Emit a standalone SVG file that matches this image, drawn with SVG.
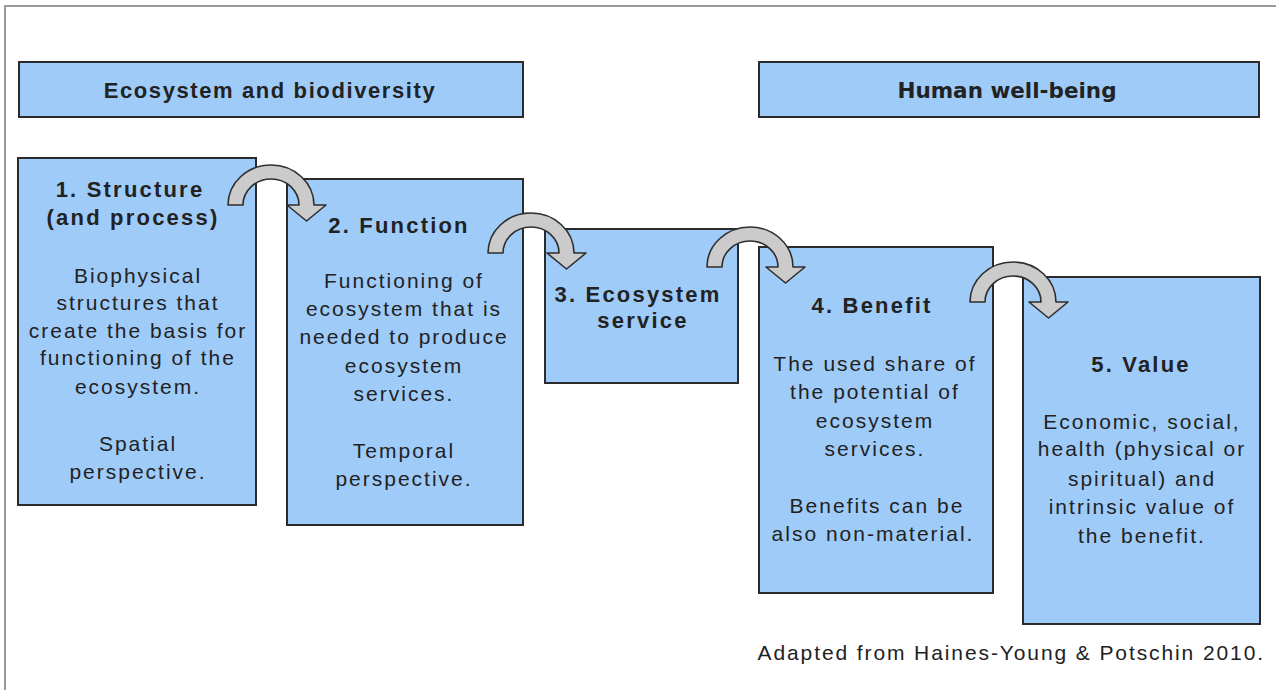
<svg xmlns="http://www.w3.org/2000/svg" width="1276" height="690" viewBox="0 0 1276 690">
  <style>
    .box { fill: #9fcbf9; stroke: #2b2b2b; stroke-width: 2; }
    .frame { fill: none; stroke: #9a9a9a; stroke-width: 2; }
    .arrow { fill: #cbcbcb; stroke: #2e2e2e; stroke-width: 1.6; stroke-linejoin: round; }
    text { font-family: "Liberation Sans", Arial, sans-serif; fill: #222; text-anchor: middle; }
    .t { font-size: 21px; letter-spacing: 2px; }
    .h { font-size: 22px; font-weight: bold; letter-spacing: 2.2px; }
    .hd { font-size: 22px; font-weight: bold; letter-spacing: 1.6px; }
    .hw { font-family: "DejaVu Sans", Verdana, sans-serif; font-size: 21.5px; font-weight: bold; }
    .note { font-size: 21px; letter-spacing: 1.9px; text-anchor: end; }
  </style>
  <defs>
    <!-- curved arrow that hops over the gap between two neighbouring boxes -->
    <path id="hop" class="arrow" d="M228,205 A43,40 0 0 1 314,205 L326,205 L306.5,221 L287,205 L299,205 A28,26 0 0 0 243,205 Z"/>
  </defs>

  <rect class="frame" x="5" y="6" width="1290" height="700"/>

  <g id="header-ecosystem">
    <rect class="box" x="19" y="62" width="504" height="55"/>
    <text class="hd" x="270" y="98">Ecosystem and biodiversity</text>
  </g>
  <g id="header-wellbeing">
    <rect class="box" x="759" y="62" width="500" height="55"/>
    <text class="hw" x="1007" y="98">Human well-being</text>
  </g>

  <g id="structure">
    <rect class="box" x="18" y="158" width="238" height="347"/>
    <text class="h" x="130" y="197">1. Structure</text>
    <text class="h" x="133" y="225">(and process)</text>
    <text class="t" x="138" y="283">Biophysical</text>
    <text class="t" x="138" y="310">structures that</text>
    <text class="t" x="138" y="338">create the basis for</text>
    <text class="t" x="138" y="365">functioning of the</text>
    <text class="t" x="138" y="394">ecosystem.</text>
    <text class="t" x="138" y="451">Spatial</text>
    <text class="t" x="138" y="479">perspective.</text>
  </g>

  <g id="function">
    <rect class="box" x="287" y="179" width="236" height="346"/>
    <text class="h" x="399" y="233">2. Function</text>
    <text class="t" x="404" y="288">Functioning of</text>
    <text class="t" x="404" y="316">ecosystem that is</text>
    <text class="t" x="404" y="344">needed to produce</text>
    <text class="t" x="404" y="373">ecosystem</text>
    <text class="t" x="404" y="401">services.</text>
    <text class="t" x="404" y="458">Temporal</text>
    <text class="t" x="404" y="486">perspective.</text>
  </g>

  <g id="service">
    <rect class="box" x="545" y="229" width="193" height="154"/>
    <text class="h" x="638" y="302">3. Ecosystem</text>
    <text class="h" x="643" y="328">service</text>
  </g>

  <g id="benefit">
    <rect class="box" x="759" y="247" width="234" height="346"/>
    <text class="h" x="872" y="313">4. Benefit</text>
    <text class="t" x="875" y="371">The used share of</text>
    <text class="t" x="875" y="399">the potential of</text>
    <text class="t" x="875" y="428">ecosystem</text>
    <text class="t" x="875" y="456">services.</text>
    <text class="t" x="877" y="513">Benefits can be</text>
    <text class="t" x="873" y="541">also non-material.</text>
  </g>

  <g id="value">
    <rect class="box" x="1023" y="277" width="237" height="347"/>
    <text class="h" x="1141" y="372">5. Value</text>
    <text class="t" x="1142" y="429">Economic, social,</text>
    <text class="t" x="1142" y="456">health (physical or</text>
    <text class="t" x="1142" y="486">spiritual) and</text>
    <text class="t" x="1142" y="514">intrinsic value of</text>
    <text class="t" x="1142" y="543">the benefit.</text>
  </g>

  <g id="connectors">
    <use href="#hop"/>
    <use href="#hop" transform="translate(260,48)"/>
    <use href="#hop" transform="translate(479,62)"/>
    <use href="#hop" transform="translate(742,97)"/>
  </g>

  <text class="note" x="1265" y="660">Adapted from Haines-Young &amp; Potschin 2010.</text>
</svg>
